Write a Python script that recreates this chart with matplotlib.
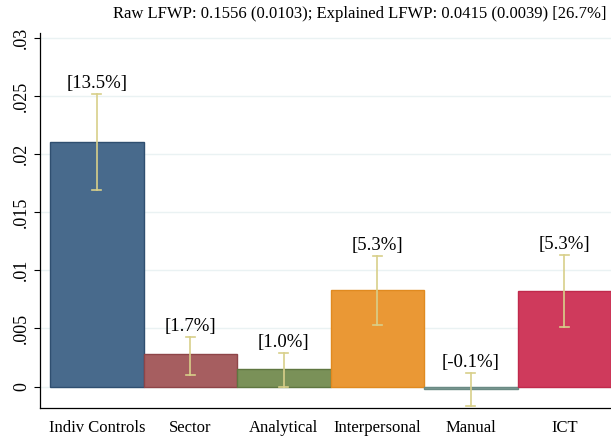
import matplotlib.pyplot as plt

plt.rcParams['font.family'] = ['Liberation Serif', 'DejaVu Serif']

categories = ["Indiv Controls", "Sector", "Analytical", "Interpersonal", "Manual", "ICT"]
values = [0.0210, 0.0028, 0.0015, 0.0083, -0.0002, 0.0082]
err_low = [0.0169, 0.0010, 0.0000, 0.0053, -0.0017, 0.0051]
err_high = [0.0252, 0.0043, 0.0029, 0.0112, 0.0012, 0.0113]
shares = ["[13.5%]", "[1.7%]", "[1.0%]", "[5.3%]", "[-0.1%]", "[5.3%]"]
colors = ["#486a8c", "#a65e60", "#7a9158", "#ea9835", "#7f9c96", "#cf3a5c"]
edges = ["#2f4f70", "#8e4548", "#5f7640", "#e08a20", "#6a8a84", "#c02a4c"]
yticks = [0, 0.005, 0.01, 0.015, 0.02, 0.025, 0.03]
ytick_labels = ["0", ".005", ".01", ".015", ".02", ".025", ".03"]

fig = plt.figure(figsize=(6.11, 4.37), dpi=100)
ax = fig.add_axes([40/611, 29/437, 571/611, 375/437])

x = list(range(len(categories)))
ax.bar(x, values, width=1.0, color=colors, edgecolor=edges, linewidth=1, zorder=2)
for i in x:
    ax.plot([i, i], [err_low[i], err_high[i]], color="#d8cf8a", lw=1.2, zorder=3)
    ax.plot([i - 0.05, i + 0.05], [err_low[i]] * 2, color="#d8cf8a", lw=1.2, zorder=3)
    ax.plot([i - 0.05, i + 0.05], [err_high[i]] * 2, color="#d8cf8a", lw=1.2, zorder=3)
    ax.text(i, err_high[i] + 0.0009, shares[i], ha="center", va="center", fontsize=13.5)

ax.set_xlim(-0.607, 5.5)
ax.set_ylim(-0.00185, 0.03042)
ax.set_yticks(yticks)
ax.set_yticklabels(ytick_labels, rotation=90, va="center", fontsize=13)
ax.set_xticks(x)
ax.set_xticklabels(categories, fontsize=12)
ax.tick_params(axis="x", length=0, pad=9)
ax.tick_params(axis="y", length=4, width=0.8, pad=3)
ax.grid(axis="y", color="#eaf2f3", lw=1, zorder=0)
for s in ["top", "right"]:
    ax.spines[s].set_visible(False)
ax.spines["left"].set_linewidth(0.9)
ax.spines["bottom"].set_linewidth(0.9)

fig.text(360/611, 1 - 14/437, "Raw LFWP: 0.1556 (0.0103); Explained LFWP: 0.0415 (0.0039) [26.7%]",
         ha="center", va="center", fontsize=12)

fig.savefig("out.png", dpi=100)
